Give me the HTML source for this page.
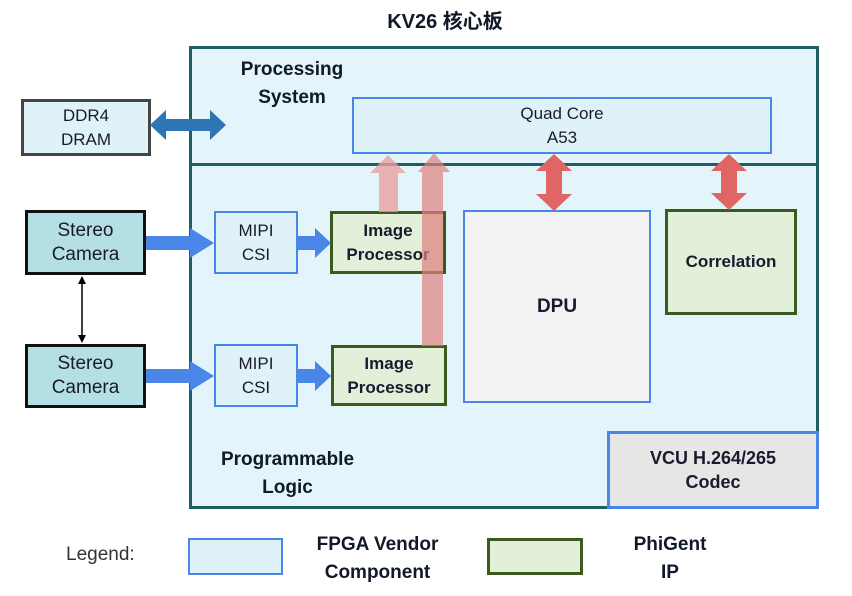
<!DOCTYPE html>
<html><head><meta charset="utf-8"><style>
body{margin:0;width:852px;height:596px;background:#fff;position:relative;overflow:hidden;font-family:"Liberation Sans","Noto Sans CJK SC",sans-serif;}
.b{position:absolute;box-sizing:border-box;display:flex;align-items:center;justify-content:center;text-align:center;color:#1a1a2e;line-height:24px;}
.t{position:absolute;text-align:center;font-weight:bold;color:#111827;font-size:19px;line-height:28px;}
.fv{background:#dff2f8;border:2.5px solid #4a86e8;font-size:17px;}
.gr{background:#e2efd9;border:3px solid #3c5a1e;font-weight:bold;font-size:17px;}
</style></head><body>
<div class="t" style="left:340px;top:8px;width:210px;font-size:20px;">KV26 核心板</div>
<div class="b" style="left:189px;top:46px;width:630px;height:463px;background:#e3f5fa;border:3px solid #1f5f63;"></div>
<div style="position:absolute;left:191px;top:163px;width:626px;height:3px;background:#1f5f63;"></div>
<div class="t" style="left:212px;top:56px;width:160px;">Processing<br>System</div>
<div class="t" style="left:200px;top:446px;width:175px;">Programmable<br>Logic</div>
<div class="b fv" style="left:352px;top:97px;width:420px;height:57px;">Quad Core<br>A53</div>
<div class="b" style="left:21px;top:99px;width:130px;height:57px;background:#dff2f8;border:3px solid #444;font-size:17px;">DDR4<br>DRAM</div>
<div class="b" style="left:25px;top:210px;width:121px;height:65px;background:#b4dfe5;border:3px solid #111;font-size:19px;">Stereo<br>Camera</div>
<div class="b" style="left:25px;top:344px;width:121px;height:64px;background:#b4dfe5;border:3px solid #111;font-size:19px;">Stereo<br>Camera</div>
<div class="b fv" style="left:214px;top:211px;width:84px;height:63px;">MIPI<br>CSI</div>
<div class="b fv" style="left:214px;top:344px;width:84px;height:63px;">MIPI<br>CSI</div>
<div class="b gr" style="left:330px;top:211px;width:116px;height:63px;">Image<br>Processor</div>
<div class="b gr" style="left:331px;top:345px;width:116px;height:61px;">Image<br>Processor</div>
<div class="b" style="left:463px;top:210px;width:188px;height:193px;background:#f2f2f2;border:2.5px solid #4a86e8;font-weight:bold;font-size:19px;">DPU</div>
<div class="b gr" style="left:665px;top:209px;width:132px;height:106px;">Correlation</div>
<div class="b" style="left:607px;top:431px;width:212px;height:78px;background:#e6e6e6;border:3px solid #4a86e8;font-weight:bold;font-size:18px;">VCU H.264/265<br>Codec</div>
<div style="position:absolute;left:66px;top:544px;font-size:19px;color:#333;">Legend:</div>
<div class="b fv" style="left:188px;top:538px;width:95px;height:37px;"></div>
<div class="t" style="left:295px;top:531px;width:165px;">FPGA Vendor<br>Component</div>
<div class="b gr" style="left:487px;top:538px;width:96px;height:37px;"></div>
<div class="t" style="left:610px;top:531px;width:120px;">PhiGent<br>IP</div>
<svg width="852" height="596" style="position:absolute;left:0;top:0">
<polygon points="150,125 166,110 166,119 210,119 210,110 226,125 210,140 210,131 166,131 166,140" fill="#2e75b6"/>
<polygon points="146,236 190,236 190,228 214,243 190,258 190,250 146,250" fill="#4a86e8"/>
<polygon points="146,369 190,369 190,361 214,376 190,391 190,383 146,383" fill="#4a86e8"/>
<polygon points="298,236 315,236 315,228 331,243 315,258 315,250 298,250" fill="#4a86e8"/>
<polygon points="298,369 315,369 315,361 331,376 315,391 315,383 298,383" fill="#4a86e8"/>
<polygon points="379,212 379,173 370,173 388,155 406,173 398,173 398,212" fill="#e8a0a0" opacity="0.8"/>
<polygon points="422,346 422,172 418,172 434,153 450,172 443,172 443,346" fill="#e07f7f" opacity="0.7"/>
<polygon points="554,154 572,171 562,171 562,194 572,194 554,211 536,194 546,194 546,171 536,171" fill="#e06666"/>
<polygon points="729,154 747,171 737,171 737,193 747,193 729,210 711,193 721,193 721,171 711,171" fill="#e06666"/>
<line x1="82" y1="282" x2="82" y2="337" stroke="#000" stroke-width="1.5"/>
<polygon points="82,276 78,284 86,284" fill="#000"/>
<polygon points="82,343 78,335 86,335" fill="#000"/>
</svg>
</body></html>
